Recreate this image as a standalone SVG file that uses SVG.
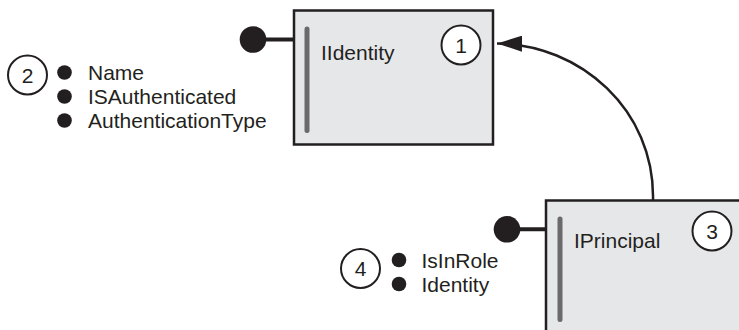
<svg xmlns="http://www.w3.org/2000/svg" width="739" height="330" viewBox="0 0 739 330">
  <style>
    .box { fill: #e6e7e9; stroke: #231f20; stroke-width: 2.5; }
    .bar { stroke: #6a6a6c; stroke-width: 5; stroke-linecap: round; }
    .stem { stroke: #231f20; stroke-width: 4; }
    .knob { fill: #231f20; }
    .badge { fill: #ffffff; stroke: #231f20; stroke-width: 2; }
    .dot { fill: #231f20; }
    text { font-family: "Liberation Sans", Arial, Helvetica, sans-serif; font-size: 21px; fill: #231f20; }
    .num { text-anchor: middle; }
    .conn { fill: none; stroke: #231f20; stroke-width: 2.5; }
  </style>
  <defs>
    <marker id="arrow" markerUnits="userSpaceOnUse" markerWidth="26" markerHeight="16" refX="25" refY="8" orient="auto">
      <path d="M0,0 L25,8 L0,16 Z" fill="#231f20"/>
    </marker>
  </defs>

  <rect width="739" height="330" fill="#ffffff"/>

  <!-- inheritance connector: IPrincipal up to IIdentity -->
  <g id="connectors">
    <path class="conn" d="M653,200 C655,110 580,44 497,43.5" marker-end="url(#arrow)"/>
  </g>

  <!-- IIdentity interface -->
  <g id="iidentity">
    <line class="stem" x1="253" y1="39.5" x2="294" y2="39.5"/>
    <circle class="knob" cx="253" cy="39.5" r="13.3"/>
    <rect class="box" x="294" y="10.5" width="199" height="134"/>
    <line class="bar" x1="307" y1="29" x2="307" y2="130.5"/>
    <text x="321" y="60">IIdentity</text>
    <circle class="badge" cx="461" cy="45" r="19.5"/>
    <text class="num" x="461" y="52.5">1</text>
  </g>

  <!-- IIdentity members -->
  <g id="iidentity-members">
    <circle class="badge" cx="27.5" cy="75" r="19.5"/>
    <text class="num" x="27.5" y="82.5">2</text>
    <circle class="dot" cx="64.5" cy="72.5" r="7.3"/>
    <circle class="dot" cx="64.5" cy="96.5" r="7.3"/>
    <circle class="dot" cx="64.5" cy="120.5" r="7.3"/>
    <text x="88" y="79.5">Name</text>
    <text x="88" y="103.5">ISAuthenticated</text>
    <text x="88" y="127.5">AuthenticationType</text>
  </g>

  <!-- IPrincipal interface -->
  <g id="iprincipal">
    <line class="stem" x1="507" y1="229.3" x2="546" y2="229.3"/>
    <circle class="knob" cx="507" cy="229.3" r="13.3"/>
    <rect class="box" x="546" y="200.5" width="200" height="140"/>
    <line class="bar" x1="560" y1="219" x2="560" y2="319.5"/>
    <text x="574" y="248">IPrincipal</text>
    <circle class="badge" cx="712" cy="231" r="19.5"/>
    <text class="num" x="712" y="238.5">3</text>
  </g>

  <!-- IPrincipal members -->
  <g id="iprincipal-members">
    <circle class="badge" cx="360.5" cy="268.5" r="19.5"/>
    <text class="num" x="360.5" y="276">4</text>
    <circle class="dot" cx="399" cy="260" r="7.3"/>
    <circle class="dot" cx="399" cy="284" r="7.3"/>
    <text x="421.5" y="267.5">IsInRole</text>
    <text x="421.5" y="291.5">Identity</text>
  </g>
</svg>
